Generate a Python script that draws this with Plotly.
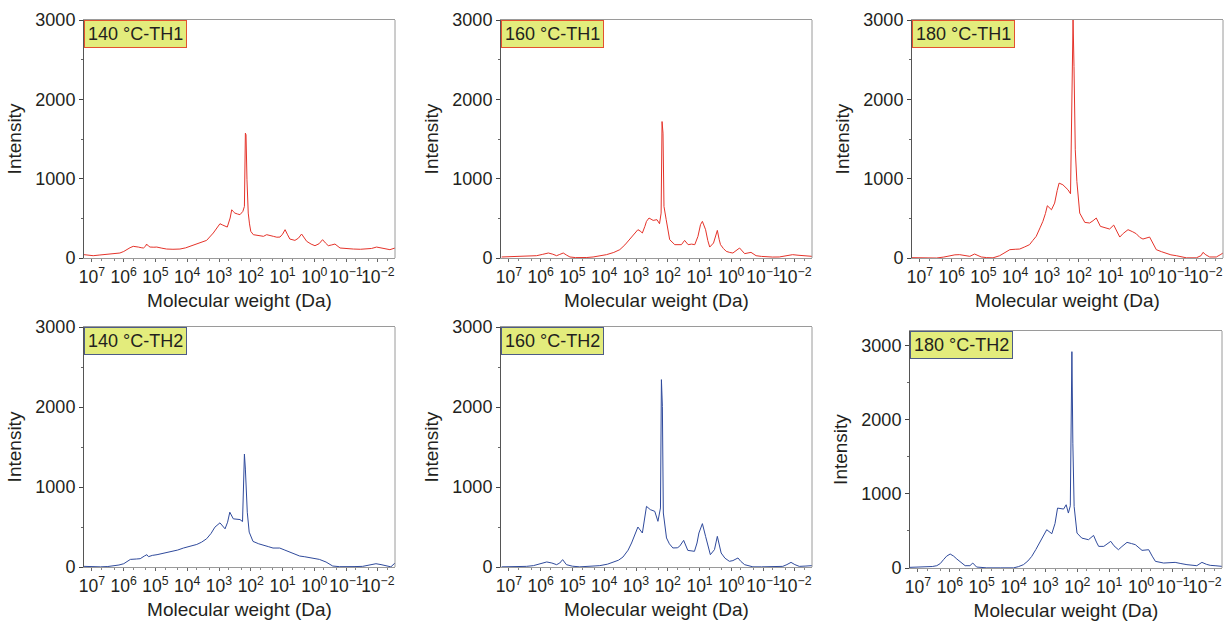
import plotly.graph_objects as go

# ---------------- data (log10 of molecular weight, intensity) ----------------
th140_1_logmw = [7.25, 7.10, 6.96, 6.75, 6.54, 6.30, 6.12, 6.00, 5.91, 5.80, 5.70, 5.62, 5.54, 5.45, 5.38,
                 5.31, 5.28, 5.22, 5.17, 5.05, 4.96, 4.80, 4.65, 4.45, 4.23, 4.05, 3.91, 3.75, 3.60,
                 3.39, 3.18, 3.05, 2.97, 2.90, 2.84, 2.74, 2.65, 2.60, 2.55, 2.50, 2.42, 2.34, 2.25, 2.20,
                 2.17, 2.15, 2.12, 2.08, 2.04, 2.00, 1.92, 1.75, 1.60, 1.50, 1.40, 1.29, 1.18, 1.08, 1.00,
                 0.92, 0.85, 0.77, 0.61, 0.50, 0.40, 0.32, 0.24, 0.10, -0.02, -0.15, -0.26, -0.35, -0.44,
                 -0.55, -0.65, -0.81, -1.00, -1.23, -1.45, -1.65, -1.80, -1.96, -2.17, -2.38, -2.54]
th140_1_int = [42, 35, 29, 38, 46, 52, 63, 82, 105, 130, 147, 145, 138, 130, 126,
               150, 176, 150, 138, 136, 138, 124, 113, 110, 113, 128, 147, 168, 189,
               222, 315, 380, 432, 418, 407, 390, 504, 608, 585, 566, 555, 546, 587, 650,
               1574, 1553, 986, 566, 430, 336, 294, 282, 273, 294, 280, 273, 262, 264, 300,
               357, 300, 239, 222, 250, 302, 260, 210, 175, 155, 180, 231, 190, 155,
               165, 176, 126, 118, 113, 110, 113, 120, 138, 126, 105, 126]

th160_1_logmw = [7.23, 6.95, 6.65, 6.40, 6.13, 5.95, 5.76, 5.62, 5.50, 5.40, 5.29, 5.18, 5.08, 4.90, 4.77,
                 4.55, 4.35, 4.15, 3.93, 3.70, 3.51, 3.35, 3.20, 3.05, 2.94, 2.87, 2.80, 2.72, 2.67,
                 2.59, 2.46, 2.34, 2.26, 2.21, 2.18, 2.15, 2.12, 2.05, 1.99, 1.94, 1.78, 1.57, 1.47, 1.36,
                 1.25, 1.15, 1.05, 0.97, 0.91, 0.81, 0.74, 0.68, 0.56, 0.50, 0.44, 0.38, 0.34, 0.25, 0.16,
                 0.05, -0.05, -0.26, -0.42, -0.62, -0.78, -0.95, -1.10, -1.30, -1.51, -1.75, -1.93,
                 -2.10, -2.25, -2.54]
th160_1_int = [13, 17, 21, 25, 29, 45, 63, 48, 29, 45, 63, 35, 13, 5, 2,
               6, 13, 25, 42, 70, 105, 165, 231, 300, 357, 340, 315, 400, 462,
               504, 474, 483, 432, 566, 1720, 1574, 650, 483, 320, 231, 168, 168, 222, 168,
               175, 168, 273, 420, 462, 357, 220, 138, 189, 280, 348, 230, 168, 120, 84,
               70, 63, 126, 55, 71, 29, 20, 13, 12, 13, 30, 42, 35, 29, 21]

th180_1_logmw = [7.25, 6.90, 6.70, 6.48, 6.25, 6.06, 5.90, 5.75, 5.60, 5.43, 5.28, 5.17, 5.07, 4.90, 4.70,
                 4.49, 4.30, 4.17, 4.00, 3.86, 3.70, 3.55, 3.45, 3.34, 3.22, 3.13, 3.05,
                 2.99, 2.86, 2.76, 2.68, 2.62, 2.50, 2.40, 2.34, 2.26, 2.20, 2.18, 2.15, 2.11, 2.06, 1.97, 1.81, 1.66,
                 1.55, 1.45, 1.32, 1.15, 1.03, 0.90, 0.80, 0.71, 0.60, 0.45, 0.30, 0.19, 0.08, -0.02, -0.23,
                 -0.35, -0.44, -0.60, -0.76, -0.90, -1.07, -1.25, -1.39, -1.70, -1.85,
                 -1.91, -2.00, -2.12, -2.33, -2.45, -2.54]
th180_1_int = [4, 2, 4, 0, 12, 29, 40, 42, 30, 21, 50, 25, 13, 5, 2,
               29, 80, 105, 110, 113, 140, 168, 220, 273, 380, 462, 560,
               659, 608, 692, 850, 944, 923, 890, 860, 810, 2830, 3000, 2413, 1364, 965, 566, 449, 441,
               470, 504, 399, 380, 365, 415, 330, 264, 310, 357, 330, 306, 260, 239, 264,
               180, 105, 80, 55, 40, 29, 12, 2, 2, 30,
               71, 40, 13, 13, 40, 63]

th140_2_logmw = [7.25, 7.00, 6.73, 6.50, 6.31, 6.15, 6.00, 5.90, 5.79, 5.60, 5.48, 5.35, 5.27, 5.22, 5.10,
                 4.95, 4.75, 4.54, 4.30, 4.12, 3.90, 3.70, 3.55, 3.39, 3.25, 3.13,
                 2.97, 2.81, 2.73, 2.66, 2.55, 2.45, 2.34, 2.26, 2.22, 2.20, 2.17, 2.14, 2.11, 2.05, 1.93, 1.75,
                 1.61, 1.45, 1.30, 1.09, 0.95, 0.78, 0.60, 0.46, 0.30, 0.15, -0.16, -0.37, -0.58, -0.80,
                 -1.00, -1.25, -1.52, -1.75, -1.94, -2.10, -2.25, -2.41, -2.54]
th140_2_int = [8, 4, 2, 6, 12, 25, 41, 70, 95, 100, 104, 137, 154, 129, 145,
               154, 170, 187, 212, 237, 260, 282, 310, 353, 420, 498,
               552, 477, 560, 685, 602, 598, 593, 568, 1100, 1411, 1224, 871, 685, 436, 320, 290,
               270, 255, 237, 237, 215, 187, 160, 137, 128, 120, 95, 62, 12, 4,
               2, 5, 8, 25, 41, 30, 21, 2, 50]

th160_2_logmw = [7.23, 6.95, 6.65, 6.45, 6.23, 6.00, 5.81, 5.65, 5.50, 5.40, 5.31, 5.19, 5.00, 4.77, 4.45,
                 4.14, 3.90, 3.72, 3.55, 3.41, 3.25, 3.14, 3.03, 2.94, 2.80, 2.72, 2.67,
                 2.55, 2.41, 2.31, 2.23, 2.20, 2.17, 2.14, 2.08, 2.04, 1.95, 1.84, 1.70, 1.63, 1.50, 1.37, 1.16,
                 1.08, 1.02, 0.91, 0.81, 0.72, 0.66, 0.53, 0.44, 0.32, 0.20, 0.06, -0.05, -0.21, -0.30, -0.42,
                 -0.68, -0.95, -1.20, -1.45, -1.62, -1.75, -1.88, -2.00, -2.14, -2.35, -2.54]
th160_2_int = [2, 2, 2, 8, 17, 40, 63, 50, 29, 50, 92, 29, 10, 2, 6,
               17, 35, 58, 85, 125, 210, 300, 420, 500, 425, 600, 758,
               717, 696, 571, 738, 2342, 2008, 675, 480, 363, 290, 238, 240, 258, 333, 208, 196,
               300, 425, 542, 383, 230, 154, 217, 383, 175, 110, 71, 80, 113, 70, 29,
               2, 2, 2, 5, 8, 30, 58, 30, 8, 12, 17]

th180_2_logmw = [7.25, 7.00, 6.73, 6.55, 6.41, 6.30, 6.20, 6.10, 5.99, 5.88, 5.78, 5.65, 5.52, 5.37, 5.28, 5.16,
                 5.00, 4.84, 4.42, 4.00, 3.85, 3.69, 3.55, 3.43, 3.30,
                 3.17, 3.05, 2.96, 2.80, 2.70, 2.62, 2.43, 2.35, 2.28, 2.22, 2.19, 2.17, 2.14, 2.10, 2.01, 1.86, 1.65,
                 1.49, 1.40, 1.33, 1.17, 1.05, 0.95, 0.85, 0.71, 0.60, 0.44, 0.30, 0.18, -0.03, -0.24, -0.35, -0.45,
                 -0.71, -0.90, -1.07, -1.25, -1.44, -1.75,
                 -1.91, -2.05, -2.17, -2.35, -2.54]
th180_2_int = [9, 11, 13, 20, 31, 60, 112, 160, 189, 160, 121, 70, 31, 31, 67, 13,
               5, 2, 2, 2, 18, 45, 95, 157, 250,
               360, 450, 517, 463, 600, 809, 796, 854, 742, 840, 2638, 2921, 1685, 831, 472, 404, 382,
               440, 350, 292, 292, 330, 360, 300, 247, 290, 346, 330, 315, 238, 247, 160, 90,
               67, 70, 76, 60, 45, 31,
               76, 50, 36, 30, 22]

panel_labels = ["140 °C-TH1", "160 °C-TH1", "180 °C-TH1", "140 °C-TH2", "160 °C-TH2", "180 °C-TH2"]
y_max = [3000, 3000, 3000, 3000, 3000, 3200]
x_tick_exponents = [7, 6, 5, 4, 3, 2, 1, 0, -1, -2]
y_tick_values = [0, 1000, 2000, 3000]

series = [(th140_1_logmw, th140_1_int), (th160_1_logmw, th160_1_int), (th180_1_logmw, th180_1_int),
          (th140_2_logmw, th140_2_int), (th160_2_logmw, th160_2_int), (th180_2_logmw, th180_2_int)]

# ---------------- layout ----------------
W, H = 1231, 623
# pixel boxes (left, right, top, bottom)
boxes = [(84, 395, 20, 258), (501, 812, 20, 258), (912, 1223, 20, 258),
         (84, 395, 327, 567), (501, 812, 327, 567), (910, 1222, 331, 568)]

RED = "#e5332a"
BLUE = "#2f4a9c"
FONT = "Liberation Sans, Arial, Helvetica, sans-serif"
TXT = "#231f20"

tickvals_x = [10.0 ** e for e in x_tick_exponents]
ticktext_x = ["10<sup>%s</sup>" % (str(e).replace("-", "\u2212")) for e in x_tick_exponents]

fig = go.Figure()
for i, ((lx, yv), lab, ym, (l, r, t, b)) in enumerate(zip(series, panel_labels, y_max, boxes)):
    n = "" if i == 0 else str(i + 1)
    color = RED if i < 3 else BLUE
    fig.add_trace(go.Scatter(x=[10 ** v for v in lx], y=yv, mode="lines",
                             line=dict(color=color, width=1),
                             xaxis="x" + n, yaxis="y" + n, showlegend=False))
    xd = [l / W, r / W]
    yd = [1 - b / H, 1 - t / H]
    fig.layout["xaxis" + n] = dict(
        domain=xd, anchor="y" + n, type="log", range=[7.25, -2.54], automargin=False,
        tickmode="array", tickvals=tickvals_x, ticktext=ticktext_x, tickangle=0,
        ticks="outside", ticklen=3, tickcolor="#666", showline=True, linecolor="#9a9a9a",
        linewidth=1, mirror=True, showgrid=False, zeroline=False,
        minor=dict(ticks="outside", ticklen=2, tickcolor="#888", showgrid=False),
        tickfont=dict(size=17.5, color=TXT, family=FONT),
        title=dict(text="Molecular weight (Da)", font=dict(size=19, color=TXT, family=FONT), standoff=7),
    )
    fig.layout["yaxis" + n] = dict(
        domain=yd, anchor="x" + n, range=[0, ym], automargin=False,
        tickvals=y_tick_values, ticks="outside", ticklen=4, tickcolor="#444",
        showline=True, linecolor="#555", linewidth=1, showgrid=False, zeroline=False,
        minor=dict(tickvals=[500, 1500, 2500], ticks="outside", ticklen=2, tickcolor="#666"),
        tickfont=dict(size=18, color=TXT, family=FONT),
        title=dict(text="Intensity", font=dict(size=19, color=TXT, family=FONT), standoff=8),
    )
    fig.add_shape(type="line", xref="x" + n + " domain", yref="y" + n + " domain",
                  x0=1, x1=1, y0=0, y1=1, line=dict(color="#9a9a9a", width=1))
    fig.add_annotation(text=lab, xref="x" + n + " domain", yref="y" + n + " domain",
                       x=0, y=1, xanchor="left", yanchor="top", showarrow=False,
                       font=dict(size=18, color=TXT, family=FONT),
                       bgcolor="#e3ec7c", bordercolor="#e2522f" if i < 3 else "#4d5c86",
                       borderwidth=1, borderpad=3)

fig.update_layout(width=W, height=H, margin=dict(l=0, r=0, t=0, b=0, autoexpand=False),
                  paper_bgcolor="white", plot_bgcolor="white", showlegend=False)

fig.write_html("out.html")
